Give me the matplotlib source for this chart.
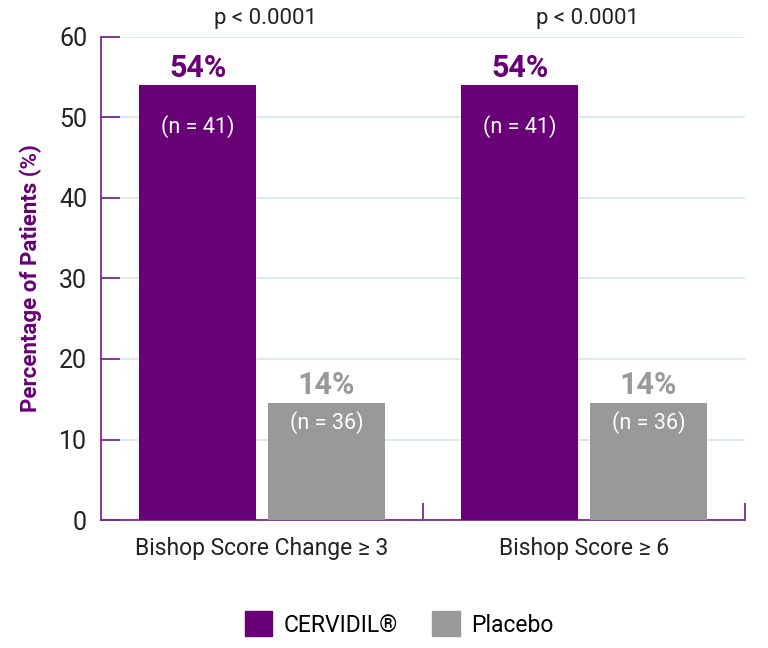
import matplotlib
matplotlib.use("Agg")
import matplotlib.pyplot as plt
from matplotlib.patches import Patch
import numpy as np

categories = ["Bishop Score Change \u2265 3", "Bishop Score \u2265 6"]
cervidil_values = [54, 54]
placebo_values = [14.5, 14.5]
cervidil_labels = ["54%", "54%"]
placebo_labels = ["14%", "14%"]
cervidil_n = ["(n = 41)", "(n = 41)"]
placebo_n = ["(n = 36)", "(n = 36)"]
p_values = ["p < 0.0001", "p < 0.0001"]
series_names = ["CERVIDIL\u00ae", "Placebo"]
yticks = [0, 10, 20, 30, 40, 50, 60]

PURPLE = "#6a0077"
AXIS = "#7a2a8e"
GRAY = "#999999"
GRID = "#d4e9f1"

plt.rcParams['font.family'] = ['Roboto', 'DejaVu Sans']

fig = plt.figure(figsize=(7.68, 6.48), dpi=100)
ax = fig.add_axes([0.1315, 0.1975, 0.8385, 0.7455])

x = np.arange(len(categories))
w = 0.365
off = 0.2
ax.bar(x - off, cervidil_values, w, color=PURPLE, zorder=3)
ax.bar(x + off, placebo_values, w, color=GRAY, zorder=3)

ax.set_xlim(-0.5, 1.5)
ax.set_ylim(0, 60)
ax.set_yticks(yticks)
ax.set_yticklabels([str(t) for t in yticks], fontsize=18, color="#222222")
ax.yaxis.grid(True, color=GRID, linewidth=1.3, zorder=0)
ax.set_axisbelow(True)

for s in ["top", "right"]:
    ax.spines[s].set_visible(False)
for s in ["left", "bottom"]:
    ax.spines[s].set_color(AXIS)
    ax.spines[s].set_linewidth(1.3)

ax.tick_params(axis="y", direction="in", length=14, width=1.3, color=AXIS, pad=10)
ax.set_xticks([0.5, 1.5])
ax.set_xticklabels([])
ax.tick_params(axis="x", direction="in", length=12, width=1.3, color=AXIS)

for i, c in enumerate(categories):
    ax.text(x[i], -3.5, c, ha="center", va="center", fontsize=16.5, color="#222222")
    ax.text(x[i] + 0.01, 62.3, p_values[i], ha="center", va="center", fontsize=16,
            color="#222222", clip_on=False)
    ax.text(x[i] - off, cervidil_values[i] + 2.1, cervidil_labels[i], ha="center",
            va="center", fontsize=22, fontweight="bold", color=PURPLE)
    ax.text(x[i] - off, cervidil_values[i] - 5.1, cervidil_n[i], ha="center",
            va="center", fontsize=15.5, color="white", zorder=4)
    ax.text(x[i] + off, placebo_values[i] + 2.3, placebo_labels[i], ha="center",
            va="center", fontsize=22, fontweight="bold", color=GRAY)
    ax.text(x[i] + off, placebo_values[i] - 2.4, placebo_n[i], ha="center",
            va="center", fontsize=15.5, color="white", zorder=4)

ax.set_ylabel("Percentage of Patients (%)", fontsize=16, fontweight="bold",
              color=PURPLE, labelpad=12)

handles = [Patch(facecolor=PURPLE, edgecolor=PURPLE), Patch(facecolor=GRAY, edgecolor=GRAY)]
fig.legend(handles, series_names, loc="center", bbox_to_anchor=(0.52, 0.037),
           ncol=2, frameon=False, fontsize=16.5, handlelength=1.2, handleheight=1.3,
           columnspacing=1.5, handletextpad=0.5)

fig.savefig("out.png", dpi=100)
